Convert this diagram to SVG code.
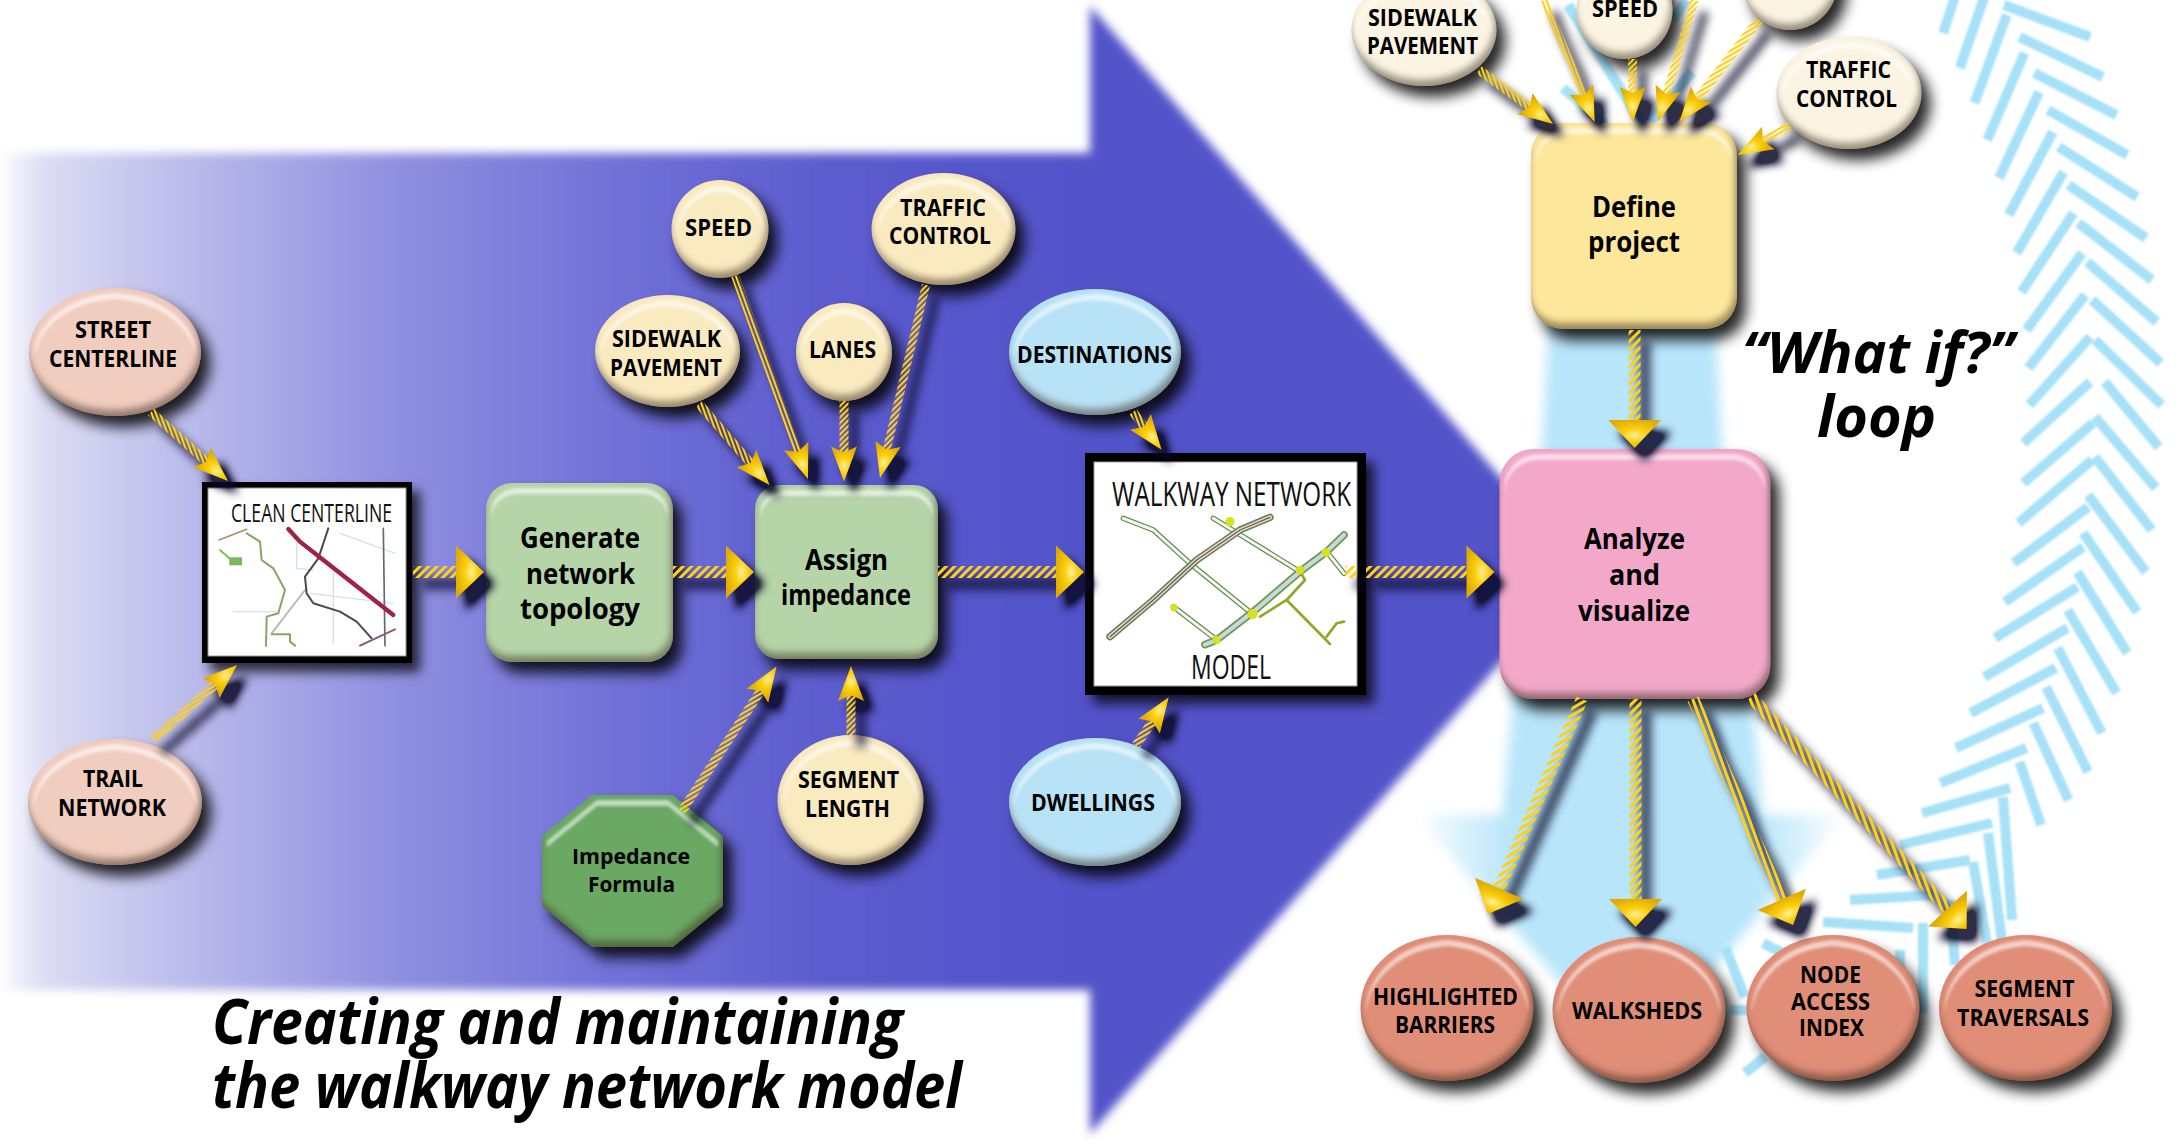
<svg xmlns="http://www.w3.org/2000/svg" width="2177" height="1144" viewBox="0 0 2177 1144">
<style>
text{font-family:"Open Sans","Noto Sans","Liberation Sans",sans-serif;fill:#000;font-weight:700;}
.o{font-size:23px}.l{font-size:22px}.b{font-size:28px}
.f{font-weight:400;font-size:25px;fill:#111}.w{font-weight:400;font-size:32px;fill:#111}
.t{font-weight:700;font-style:italic;font-size:62px}.q{font-weight:700;font-style:italic;font-size:58px}
.ch line{stroke:#a6e1f8;stroke-width:10}
.c{fill:none}
.k{stroke-width:12;marker-end:url(#hb)}
.s{stroke-width:9;marker-end:url(#hs)}
.n{stroke-width:8;marker-end:url(#hs)}
.peach{fill:#f1cdc0}.butter{fill:#faeac0}.sky{fill:#b8e2f6}.cream{fill:#fbf4e2}.salmon{fill:#e08e78}
.green{fill:#b5d4a8}.pink{fill:#f3a8ca}.gold{fill:#fde79b}.dgreen{fill:#6aa864}
.m{fill:none;stroke-linecap:round;stroke-linejoin:round}
</style>
<defs>
<linearGradient id="band" gradientUnits="userSpaceOnUse" x1="0" y1="0" x2="1100" y2="0">
<stop offset="0" stop-color="#ffffff"/><stop offset=".012" stop-color="#f2f2fb"/><stop offset=".04" stop-color="#dcdcf4"/><stop offset=".18" stop-color="#b8b8ea"/><stop offset=".36" stop-color="#8f8fe0"/><stop offset=".55" stop-color="#7272d8"/><stop offset=".75" stop-color="#5c5cce"/><stop offset="1" stop-color="#5252ca"/>
</linearGradient>
<linearGradient id="loopfill" gradientUnits="userSpaceOnUse" x1="1416" y1="0" x2="1844" y2="0">
<stop offset="0" stop-color="#b8e5fa" stop-opacity=".05"/><stop offset=".22" stop-color="#b8e5fa"/><stop offset=".8" stop-color="#b8e5fa"/><stop offset="1" stop-color="#b8e5fa" stop-opacity=".05"/>
</linearGradient>
<radialGradient id="gh" cx=".55" cy=".5" r=".6"><stop offset="0" stop-color="#fff09a"/><stop offset=".4" stop-color="#fbcf0c"/><stop offset="1" stop-color="#e0aa00"/></radialGradient>
<filter id="soft" x="-5%" y="-5%" width="110%" height="110%"><feGaussianBlur stdDeviation="5"/></filter>
<filter id="softb" x="-10%" y="-10%" width="120%" height="120%"><feGaussianBlur stdDeviation="6"/></filter>
<filter id="chv" filterUnits="userSpaceOnUse" x="1500" y="-20" width="700" height="1170"><feGaussianBlur stdDeviation=".9"/></filter>
<filter id="mapb" x="-5%" y="-5%" width="110%" height="110%"><feGaussianBlur stdDeviation=".7"/></filter>
<filter id="sh" x="-15%" y="-15%" width="140%" height="140%"><feDropShadow dx="8" dy="9" stdDeviation="6" flood-color="#000" flood-opacity=".75"/></filter>
<filter id="bev" x="-15%" y="-15%" width="140%" height="140%" color-interpolation-filters="sRGB">
<feGaussianBlur in="SourceAlpha" stdDeviation="7"/><feOffset dx="9" dy="11"/><feComponentTransfer result="shd"><feFuncA type="linear" slope=".85"/></feComponentTransfer>
<feOffset in="SourceAlpha" dx="-2" dy="-6"/><feGaussianBlur stdDeviation="3.5" result="a"/>
<feComposite in="SourceAlpha" in2="a" operator="out" result="rim"/>
<feFlood flood-color="#3a2a18" flood-opacity=".5"/><feComposite in2="rim" operator="in" result="rimc"/>
<feMorphology in="SourceAlpha" operator="erode" radius="5" result="e"/><feOffset in="e" dy="6" result="eo"/>
<feComposite in="e" in2="eo" operator="out"/><feGaussianBlur stdDeviation="1.6" result="bd"/>
<feFlood flood-color="#fff" flood-opacity=".6"/><feComposite in2="bd" operator="in"/><feComposite in2="SourceAlpha" operator="in" result="hl"/>
<feMerge><feMergeNode in="shd"/><feMergeNode in="SourceGraphic"/><feMergeNode in="rimc"/><feMergeNode in="hl"/></feMerge>
</filter>
<filter id="csh" filterUnits="userSpaceOnUse" x="0" y="-30" width="2177" height="1200" color-interpolation-filters="sRGB">
<feGaussianBlur in="SourceAlpha" stdDeviation="5"/><feOffset dx="10" dy="12"/><feComponentTransfer result="s"><feFuncA type="linear" slope="1.7"/></feComponentTransfer>
<feFlood flood-color="#0a0a28" flood-opacity=".85"/><feComposite in2="s" operator="in" result="sc"/>
<feMerge><feMergeNode in="sc"/><feMergeNode in="SourceGraphic"/></feMerge>
</filter>
<pattern id="bF" patternUnits="userSpaceOnUse" width="6" height="6" patternTransform="rotate(45)"><rect width="3" height="6" fill="#ffd01a"/></pattern>
<pattern id="bB" patternUnits="userSpaceOnUse" width="6" height="6" patternTransform="rotate(-20)"><rect width="3" height="6" fill="#ffd01a"/></pattern>
<pattern id="bS" patternUnits="userSpaceOnUse" width="6" height="6" patternTransform="rotate(60)"><rect width="3" height="6" fill="#ffd01a"/></pattern>
<pattern id="sF" patternUnits="userSpaceOnUse" width="4" height="4" patternTransform="rotate(45)"><rect width="2.2" height="4" fill="#ffd01a"/></pattern>
<pattern id="sB" patternUnits="userSpaceOnUse" width="4" height="4" patternTransform="rotate(-20)"><rect width="2.2" height="4" fill="#ffd01a"/></pattern>
<pattern id="sS" patternUnits="userSpaceOnUse" width="4" height="4" patternTransform="rotate(60)"><rect width="2.2" height="4" fill="#ffd01a"/></pattern>
<marker id="hb" markerUnits="userSpaceOnUse" markerWidth="80" markerHeight="80" refX="0" refY="0" orient="auto" overflow="visible"><path d="M20,0 L-8,-26.5 L-8,26.5Z" fill="url(#gh)"/></marker>
<marker id="hs" markerUnits="userSpaceOnUse" markerWidth="80" markerHeight="80" refX="0" refY="0" orient="auto" overflow="visible"><path d="M20,0 L-15,-13 L-9,0 L-15,13Z" fill="url(#gh)"/></marker>
</defs>
<rect width="2177" height="1144" fill="#fff"/>
<polygon id="big-arrow" points="-10,153 1090,153 1090,6 1581,570 1090,1134 1090,990 -10,990" fill="url(#band)" filter="url(#soft)"/>
<polygon id="loop-arrow" points="1550,300 1714,300 1722,450 1752,700 1763,815 1844,815 1632,1065 1416,815 1502,815 1513,700 1542,450" fill="url(#loopfill)" filter="url(#softb)"/>
<g id="loop-chevrons" class="ch" filter="url(#chv)">
<g transform="translate(1850 0) scale(.98 1) translate(-1850 0)">
<line x1="1945" y1="33" x2="1957" y2="-3"/><line x1="1962" y1="68" x2="1987" y2="-3"/><line x1="1977" y1="103" x2="2010" y2="15"/><line x1="1990" y1="140" x2="2028" y2="53"/><line x1="2002" y1="178" x2="2043" y2="92"/><line x1="2012" y1="215" x2="2057" y2="132"/><line x1="2020" y1="253" x2="2068" y2="172"/><line x1="2025" y1="292" x2="2078" y2="213"/><line x1="2030" y1="330" x2="2087" y2="253"/><line x1="2032" y1="368" x2="2090" y2="295"/><line x1="2033" y1="405" x2="2095" y2="337"/>
<line x1="2027" y1="443" x2="2095" y2="382"/><line x1="2027" y1="483" x2="2098" y2="423"/><line x1="2022" y1="523" x2="2097" y2="460"/><line x1="2017" y1="563" x2="2093" y2="507"/><line x1="2008" y1="602" x2="2088" y2="547"/><line x1="1998" y1="638" x2="2082" y2="587"/><line x1="1987" y1="677" x2="2072" y2="628"/><line x1="1973" y1="713" x2="2060" y2="668"/><line x1="1958" y1="748" x2="2047" y2="708"/><line x1="1942" y1="783" x2="2030" y2="748"/>
<line x1="2007" y1="5" x2="2095" y2="37"/><line x1="2023" y1="37" x2="2108" y2="77"/><line x1="2038" y1="73" x2="2122" y2="115"/><line x1="2052" y1="110" x2="2133" y2="155"/><line x1="2063" y1="147" x2="2143" y2="197"/><line x1="2073" y1="185" x2="2152" y2="238"/><line x1="2083" y1="223" x2="2158" y2="280"/><line x1="2092" y1="262" x2="2163" y2="322"/><line x1="2097" y1="300" x2="2167" y2="363"/><line x1="2100" y1="340" x2="2168" y2="405"/>
<line x1="2110" y1="382" x2="2165" y2="447"/><line x1="2100" y1="417" x2="2162" y2="488"/><line x1="2100" y1="457" x2="2158" y2="530"/><line x1="2093" y1="495" x2="2152" y2="572"/><line x1="2088" y1="533" x2="2143" y2="612"/><line x1="2082" y1="572" x2="2133" y2="653"/><line x1="2072" y1="610" x2="2122" y2="693"/><line x1="2062" y1="648" x2="2107" y2="733"/><line x1="2050" y1="687" x2="2093" y2="772"/><line x1="2037" y1="723" x2="2073" y2="800"/><line x1="2023" y1="762" x2="2045" y2="825"/>
</g>
<line x1="1922" y1="813" x2="2010" y2="788"/><line x1="1900" y1="845" x2="1992" y2="823"/><line x1="1877" y1="875" x2="1970" y2="860"/><line x1="1850" y1="900" x2="1933" y2="895"/><line x1="1823" y1="922" x2="1913" y2="928"/><line x1="1763" y1="943" x2="1800" y2="962"/>
<line x1="2003" y1="797" x2="2012" y2="920"/><line x1="1988" y1="833" x2="2003" y2="950"/><line x1="1973" y1="862" x2="1987" y2="943"/><line x1="1950" y1="900" x2="1955" y2="965"/><line x1="1923" y1="923" x2="1923" y2="1013"/><line x1="1900" y1="950" x2="1900" y2="975"/>
<line x1="1730" y1="1010" x2="1748" y2="1010"/><line x1="1725" y1="947" x2="1745" y2="997"/><line x1="1745" y1="1073" x2="1765" y2="1057"/>
<line x1="1568" y1="5" x2="1640" y2="120"/><line x1="1563" y1="88" x2="1605" y2="125"/><line x1="1692" y1="72" x2="1650" y2="122"/><line x1="1687" y1="0" x2="1672" y2="20"/>
</g>
<g id="street-centerline"><ellipse cx="115" cy="352" rx="86" ry="64" class="peach" filter="url(#bev)"/><text class="o" x="75" y="338" textLength="76" lengthAdjust="spacingAndGlyphs">STREET</text><text class="o" x="49" y="367" textLength="128" lengthAdjust="spacingAndGlyphs">CENTERLINE</text></g>
<g id="trail-network"><ellipse cx="115" cy="802" rx="87" ry="63" class="peach" filter="url(#bev)"/><text class="o" x="83" y="787" textLength="60" lengthAdjust="spacingAndGlyphs">TRAIL</text><text class="o" x="58" y="816" textLength="108" lengthAdjust="spacingAndGlyphs">NETWORK</text></g>
<g id="clean-centerline">
<rect x="202" y="482" width="210" height="181" fill="#000" filter="url(#sh)"/><rect x="208" y="488" width="198" height="168" fill="#fff" stroke="#999" stroke-width="1"/>
<text class="f" x="231" y="522" textLength="161" lengthAdjust="spacingAndGlyphs">CLEAN CENTERLINE</text>
<g transform="translate(190 470) scale(.3333)" filter="url(#mapb)" class="m">
<path d="M320 220V295L370 300M450 190L615 250M360 370L610 400M130 425H260M430 300V520" stroke="#d5e0e4" stroke-width="4"/>
<path d="M345 360L245 490" stroke="#b9b9b9" stroke-width="6"/>
<path d="M170 190L210 215L215 270L250 295L285 360L265 430L230 440L228 527M245 493H300V515L315 527" stroke="#86a56a" stroke-width="6"/>
<path d="M90 240L130 275" stroke="#7cc060" stroke-width="6"/><rect x="118" y="262" width="38" height="24" fill="#78b858"/>
<path d="M87 210L170 178" stroke="#a89070" stroke-width="5"/>
<path d="M580 175L585 527" stroke="#667" stroke-width="5"/>
<path d="M415 175L385 265L345 320L350 370L370 400L450 425L500 455L545 505" stroke="#4a4a50" stroke-width="6"/>
<path d="M510 527L615 478" stroke="#8a5a70" stroke-width="6"/>
<path d="M295 177L330 215L400 270L610 435" stroke="#a22044" stroke-width="13"/>
</g>
</g>
<g id="generate-network-topology"><rect x="486" y="483" width="187" height="179" rx="26" class="green" filter="url(#bev)"/><text class="b" x="520" y="548" textLength="120" lengthAdjust="spacingAndGlyphs">Generate</text><text class="b" x="526" y="584" textLength="109" lengthAdjust="spacingAndGlyphs">network</text><text class="b" x="520" y="619" textLength="120" lengthAdjust="spacingAndGlyphs">topology</text></g>
<g id="assign-impedance"><rect x="755" y="485" width="183" height="174" rx="24" class="green" filter="url(#bev)"/><text class="b" x="805" y="570" textLength="83" lengthAdjust="spacingAndGlyphs">Assign</text><text class="b" x="781" y="605" textLength="130" lengthAdjust="spacingAndGlyphs">impedance</text></g>
<g id="speed"><ellipse cx="720" cy="229" rx="48.5" ry="49" class="butter" filter="url(#bev)"/><text class="o" x="685" y="236" textLength="67" lengthAdjust="spacingAndGlyphs">SPEED</text></g>
<g id="traffic-control"><ellipse cx="943.5" cy="229" rx="72" ry="56" class="butter" filter="url(#bev)"/><text class="o" x="900" y="216" textLength="86" lengthAdjust="spacingAndGlyphs">TRAFFIC</text><text class="o" x="889" y="244" textLength="102" lengthAdjust="spacingAndGlyphs">CONTROL</text></g>
<g id="sidewalk-pavement"><ellipse cx="667.5" cy="351" rx="72.5" ry="56" class="butter" filter="url(#bev)"/><text class="o" x="612" y="347" textLength="109" lengthAdjust="spacingAndGlyphs">SIDEWALK</text><text class="o" x="610" y="376" textLength="112" lengthAdjust="spacingAndGlyphs">PAVEMENT</text></g>
<g id="lanes"><ellipse cx="844" cy="352" rx="48" ry="49" class="butter" filter="url(#bev)"/><text class="o" x="809" y="358" textLength="67" lengthAdjust="spacingAndGlyphs">LANES</text></g>
<g id="destinations"><ellipse cx="1095" cy="352" rx="86" ry="63" class="sky" filter="url(#bev)"/><text class="o" x="1017" y="363" textLength="155" lengthAdjust="spacingAndGlyphs">DESTINATIONS</text></g>
<g id="dwellings"><ellipse cx="1095" cy="802" rx="86" ry="64" class="sky" filter="url(#bev)"/><text class="o" x="1031" y="811" textLength="124" lengthAdjust="spacingAndGlyphs">DWELLINGS</text></g>
<g id="segment-length"><ellipse cx="850.5" cy="800" rx="73" ry="65" class="butter" filter="url(#bev)"/><text class="o" x="798" y="788" textLength="101" lengthAdjust="spacingAndGlyphs">SEGMENT</text><text class="o" x="805" y="817" textLength="85" lengthAdjust="spacingAndGlyphs">LENGTH</text></g>
<g id="impedance-formula"><polygon points="592,795 673,795 723,836 723,906 673,947 592,947 542,906 542,836" class="dgreen" filter="url(#bev)"/><text class="l" x="572" y="864" textLength="118" lengthAdjust="spacingAndGlyphs">Impedance</text><text class="l" x="588" y="892" textLength="87" lengthAdjust="spacingAndGlyphs">Formula</text></g>
<g id="walkway-network-model">
<rect x="1085" y="453" width="281" height="242" fill="#000" filter="url(#sh)"/><rect x="1094" y="462" width="263" height="224" fill="#fff" stroke="#999" stroke-width="1"/>
<text class="w" x="1112" y="506" textLength="239" lengthAdjust="spacingAndGlyphs">WALKWAY NETWORK</text><text class="w" x="1191" y="679" textLength="80" lengthAdjust="spacingAndGlyphs">MODEL</text>
<g transform="translate(1070 440) scale(.3333)" filter="url(#mapb)" class="m">
<g stroke="#5f8a50" stroke-width="16"><path d="M160 235L250 270L360 370L545 520M430 235L520 290L690 395M310 500L440 600M770 335L822 400"/></g>
<g stroke="#f4f8ee" stroke-width="9"><path d="M160 235L250 270L360 370L545 520M430 235L520 290L690 395M310 500L440 600M770 335L822 400"/></g>
<path d="M120 590L250 480L380 360L510 270L600 232" stroke="#68845c" stroke-width="22"/><path d="M120 590L250 480L380 360L510 270L600 232" stroke="#dfe4d2" stroke-width="12"/><path d="M120 590L250 480L380 360L510 270L600 232" stroke="#8a4a4a" stroke-width="4"/>
<path d="M405 614L440 600L550 515L690 395L770 335L822 285" stroke="#6f9a50" stroke-width="23"/><path d="M405 614L440 600L550 515L690 395L770 335L822 285" stroke="#c8d8e0" stroke-width="12"/>
<path d="M570 530L650 480L705 420L690 395M650 480L780 612M770 590L800 550L822 545" stroke="#8fa828" stroke-width="8"/>
<g fill="#d8e020"><circle cx="480" cy="245" r="14"/><circle cx="690" cy="390" r="13"/><circle cx="768" cy="338" r="13"/><circle cx="548" cy="522" r="15"/><circle cx="440" cy="600" r="12"/><circle cx="312" cy="503" r="11"/></g>
</g>
</g>
<g id="define-project"><rect x="1531" y="123" width="206" height="206" rx="32" class="gold" filter="url(#bev)"/><text class="b" x="1592" y="217" textLength="84" lengthAdjust="spacingAndGlyphs">Define</text><text class="b" x="1588" y="252" textLength="92" lengthAdjust="spacingAndGlyphs">project</text></g>
<g id="analyze-and-visualize"><rect x="1499.5" y="449" width="271" height="250" rx="34" class="pink" filter="url(#bev)"/><text class="b" x="1584" y="549" textLength="101" lengthAdjust="spacingAndGlyphs">Analyze</text><text class="b" x="1609" y="585" textLength="51" lengthAdjust="spacingAndGlyphs">and</text><text class="b" x="1578" y="621" textLength="112" lengthAdjust="spacingAndGlyphs">visualize</text></g>
<g id="sidewalk-pavement-2"><ellipse cx="1424" cy="30" rx="72.5" ry="56" class="cream" filter="url(#bev)"/><text class="o" x="1368" y="26" textLength="109" lengthAdjust="spacingAndGlyphs">SIDEWALK</text><text class="o" x="1367" y="54" textLength="111" lengthAdjust="spacingAndGlyphs">PAVEMENT</text></g>
<g id="speed-2"><ellipse cx="1624.5" cy="10" rx="48" ry="49" class="cream" filter="url(#bev)"/><text class="o" x="1592" y="17" textLength="66" lengthAdjust="spacingAndGlyphs">SPEED</text></g>
<g id="lanes-2"><ellipse cx="1790" cy="-19" rx="48" ry="49" class="cream" filter="url(#bev)"/></g>
<g id="traffic-control-2"><ellipse cx="1849" cy="93" rx="72.5" ry="56" class="cream" filter="url(#bev)"/><text class="o" x="1806" y="78" textLength="85" lengthAdjust="spacingAndGlyphs">TRAFFIC</text><text class="o" x="1796" y="107" textLength="101" lengthAdjust="spacingAndGlyphs">CONTROL</text></g>
<g id="highlighted-barriers"><ellipse cx="1447" cy="1008" rx="86.5" ry="73" class="salmon" filter="url(#bev)"/><text class="o" x="1373" y="1005" textLength="145" lengthAdjust="spacingAndGlyphs">HIGHLIGHTED</text><text class="o" x="1395" y="1033" textLength="100" lengthAdjust="spacingAndGlyphs">BARRIERS</text></g>
<g id="walksheds"><ellipse cx="1639" cy="1010" rx="86.5" ry="73" class="salmon" filter="url(#bev)"/><text class="o" x="1572" y="1019" textLength="130" lengthAdjust="spacingAndGlyphs">WALKSHEDS</text></g>
<g id="node-access-index"><ellipse cx="1833" cy="1008" rx="86.5" ry="73" class="salmon" filter="url(#bev)"/><text class="o" x="1800" y="983" textLength="61" lengthAdjust="spacingAndGlyphs">NODE</text><text class="o" x="1791" y="1010" textLength="79" lengthAdjust="spacingAndGlyphs">ACCESS</text><text class="o" x="1799" y="1036" textLength="65" lengthAdjust="spacingAndGlyphs">INDEX</text></g>
<g id="segment-traversals"><ellipse cx="2025.5" cy="1008" rx="86.5" ry="73" class="salmon" filter="url(#bev)"/><text class="o" x="1974.5" y="997" textLength="100" lengthAdjust="spacingAndGlyphs">SEGMENT</text><text class="o" x="1957" y="1026" textLength="132" lengthAdjust="spacingAndGlyphs">TRAVERSALS</text></g>
<g id="connectors" filter="url(#csh)">
<line class="c s" stroke="url(#sB)" x1="151" y1="412" x2="213.1" y2="467.7"/>
<line class="c s" stroke="url(#sS)" x1="153" y1="740" x2="222.1" y2="678.3"/>
<line class="c k" stroke="url(#bF)" x1="413" y1="572" x2="464" y2="572"/>
<line class="c k" stroke="url(#bF)" x1="673" y1="572" x2="734" y2="572"/>
<line class="c k" stroke="url(#bF)" x1="938" y1="572" x2="1064" y2="572"/>
<line class="c" stroke="url(#bF)" stroke-width="12" x1="1345" y1="572" x2="1357" y2="572"/>
<line class="c k" stroke="url(#bF)" x1="1366" y1="572" x2="1474.5" y2="572"/>
<line class="c s" stroke="url(#sB)" x1="699" y1="404" x2="756.4" y2="469.9"/>
<line class="c n" stroke="url(#sB)" x1="735" y1="276" x2="801.2" y2="460.2"/>
<line class="c s" stroke="url(#sF)" x1="844" y1="401" x2="844" y2="461.5"/>
<line class="c n" stroke="url(#sF)" x1="926" y1="285" x2="884.6" y2="458.5"/>
<line class="c s" stroke="url(#sS)" x1="682" y1="811" x2="765.6" y2="683.2"/>
<line class="c s" stroke="url(#sF)" x1="851" y1="735" x2="851" y2="686"/>
<line class="c s" stroke="url(#sB)" x1="1133" y1="412" x2="1149.5" y2="433.9"/>
<line class="c s" stroke="url(#sS)" x1="1136" y1="745.5" x2="1157.5" y2="713.7"/>
<line class="c s" stroke="url(#sB)" x1="1479" y1="70" x2="1537" y2="112.3"/>
<line class="c n" stroke="url(#sB)" x1="1544" y1="0" x2="1587" y2="103.5"/>
<line class="c s" stroke="url(#sF)" x1="1632.6" y1="59" x2="1632.6" y2="102"/>
<line class="c n" stroke="url(#sF)" x1="1694.7" y1="0" x2="1663.7" y2="102.8"/>
<line class="c s" stroke="url(#sS)" x1="1759" y1="20" x2="1691.7" y2="106.3"/>
<line class="c s" stroke="url(#sS)" x1="1789.7" y1="126" x2="1755.2" y2="145.3"/>
<line class="c k" stroke="url(#bF)" x1="1634.6" y1="330" x2="1634.6" y2="428"/>
<line class="c k" stroke="url(#bS)" x1="1582" y1="699" x2="1496" y2="895.7"/>
<line class="c k" stroke="url(#bF)" x1="1635.5" y1="699" x2="1635.5" y2="907"/>
<line class="c k" stroke="url(#bB)" x1="1693" y1="699" x2="1785" y2="906.7"/>
<line class="c k" stroke="url(#bB)" x1="1751" y1="697" x2="1953" y2="914.4"/>
</g>
<g id="captions">
<text class="t" x="212" y="1044" textLength="691" lengthAdjust="spacingAndGlyphs">Creating and maintaining</text>
<text class="t" x="212" y="1108" textLength="750" lengthAdjust="spacingAndGlyphs">the walkway network model</text>
<text class="q" x="1742" y="373" textLength="272" lengthAdjust="spacingAndGlyphs">“What if?”</text>
<text class="q" x="1817" y="437" textLength="119" lengthAdjust="spacingAndGlyphs">loop</text>
</g>
</svg>
